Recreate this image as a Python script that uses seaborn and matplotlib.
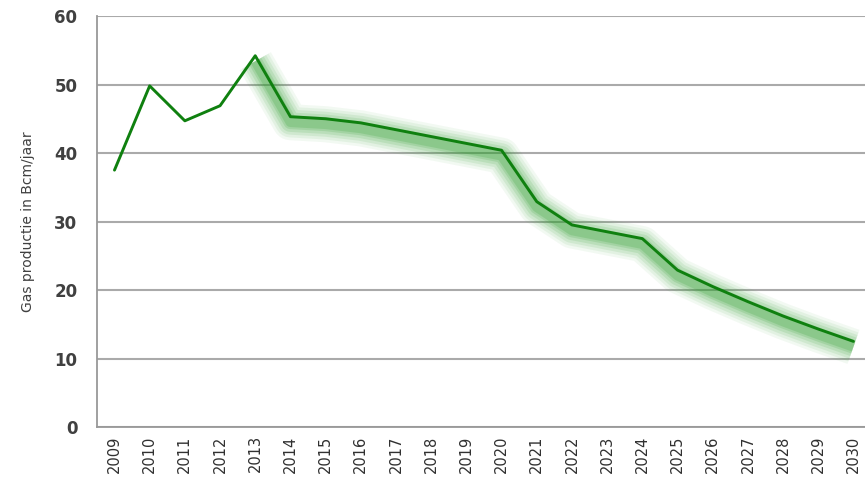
import matplotlib
matplotlib.use("Agg")
import matplotlib.pyplot as plt
import numpy as np
import pandas as pd
import seaborn as sns

sns.set_style("white")
plt.rcParams['font.family'] = ['DejaVu Sans']

# gas production in Bcm per year
years = list(range(2009, 2031))
production = [37.5, 49.8, 44.7, 46.9, 54.2, 45.3, 45.0, 44.4, 43.4, 42.4, 41.4,
              40.4, 32.9, 29.5, 28.5, 27.5, 22.9, 20.5, 18.3, 16.2, 14.3, 12.5]
forecast_start = 2013

df = pd.DataFrame({"jaar": years, "productie": production})
df["pos"] = np.arange(len(years))
fc = df[df["jaar"] >= forecast_start]

fig = plt.figure(figsize=(8.65, 4.94), dpi=100)
ax = fig.add_axes([0.112, 0.1356, 0.895, 0.832])

green = "#0f800f"

# soft glow around the forecast part
for lw, a in [(26, 0.06), (22, 0.08), (18, 0.10), (14, 0.13), (10, 0.16), (7, 0.2)]:
    ax.plot(fc["pos"], fc["productie"] - 0.8, color="#2f9f2f", lw=lw, alpha=a,
            solid_capstyle="butt", solid_joinstyle="round", zorder=2)

sns.lineplot(data=df, x="pos", y="productie", ax=ax, color=green, lw=2.1, zorder=3)

ax.set_xlim(-0.5, len(years) - 0.5)
ax.set_ylim(0, 60)
ax.set_yticks(range(0, 61, 10))
ax.set_yticklabels([str(v) for v in range(0, 61, 10)], fontsize=12,
                   fontweight="bold", color="#404040")
ax.set_xticks(df["pos"])
ax.set_xticklabels([str(y) for y in years], rotation=90, fontsize=10.5,
                   color="#303030")
ax.set_xticks(np.arange(-0.5, len(years), 1), minor=True)
ax.tick_params(axis="x", which="major", length=0, pad=6)
ax.tick_params(axis="x", which="minor", length=6, color="#999999", width=1)
ax.tick_params(axis="y", length=6, color="#999999", width=1, pad=8)

ax.grid(axis="y", color="#aaaaaa", lw=1.5)
ax.set_axisbelow(True)
for s in ["top", "right"]:
    ax.spines[s].set_visible(False)
for s in ["left", "bottom"]:
    ax.spines[s].set_color("#999999")
    ax.spines[s].set_linewidth(1.3)

ax.set_xlabel("")
ax.set_ylabel("Gas productie in Bcm/jaar", fontsize=10, color="#404040", labelpad=14)

fig.savefig("out.png", dpi=100)
